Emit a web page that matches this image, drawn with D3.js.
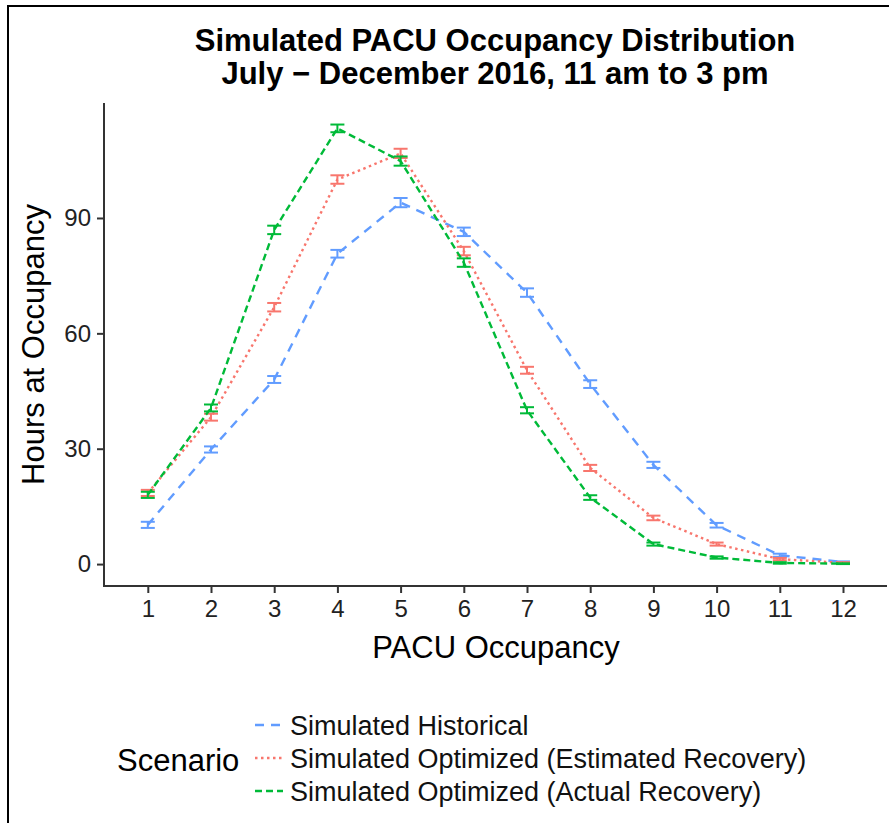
<!DOCTYPE html>
<html>
<head>
<meta charset="utf-8">
<script src="https://cdn.jsdelivr.net/npm/d3@7"></script>
<style>
  body { margin: 0; background: #fff; }
  svg { display: block; font-family: "Liberation Sans", Arial, sans-serif; }
</style>
</head>
<body>
<div id="chart"></div>
<script>
const occupancy = [1, 2, 3, 4, 5, 6, 7, 8, 9, 10, 11, 12];
const scenarios = [
  "Simulated Historical",
  "Simulated Optimized (Estimated Recovery)",
  "Simulated Optimized (Actual Recovery)"
];
const historical = [10.2, 29.8, 48.0, 80.7, 94.0, 86.4, 70.6, 46.8, 25.8, 10.1, 2.3, 0.5];
const estimated = [18.5, 38.2, 66.8, 100.0, 106.8, 81.4, 50.4, 25.0, 12.0, 5.2, 1.3, 0.3];
const actual = [18.0, 40.6, 86.9, 113.3, 104.8, 78.4, 40.0, 17.3, 5.2, 1.7, 0.3, 0.1];
const errHistorical = [0.8, 0.8, 0.9, 1.0, 1.2, 1.1, 1.1, 1.0, 0.8, 0.6, 0.4, 0.2];
const errEstimated = [0.8, 0.9, 1.1, 1.1, 1.2, 1.1, 0.9, 0.8, 0.6, 0.4, 0.3, 0.2];
const errActual = [0.8, 0.9, 1.1, 1.0, 1.2, 1.1, 0.8, 0.6, 0.4, 0.3, 0.2, 0.1];
const yTicks = [0, 30, 60, 90];

const colors = ["#619CFF", "#F8766D", "#00BA38"];
const dashes = ["9,7", "2.5,3.5", "7,4"];

const series = [
  { name: scenarios[0], values: historical, err: errHistorical },
  { name: scenarios[1], values: estimated, err: errEstimated },
  { name: scenarios[2], values: actual, err: errActual }
].map((s, i) => ({
  ...s,
  color: colors[i],
  dash: dashes[i],
  points: occupancy.map((o, j) => ({ x: o, y: s.values[j], e: s.err[j] }))
}));

const width = 889;
const height = 823;

const svg = d3
  .select("#chart")
  .append("svg")
  .attr("width", width)
  .attr("height", height);

// frame (only top and left edges are visible)
svg.append("path")
  .attr("d", `M8,${height} V6 H${width}`)
  .attr("fill", "none")
  .attr("stroke", "#000")
  .attr("stroke-width", 2);

const plot = { left: 104, right: 887, top: 103, bottom: 586 };

const x = d3.scaleLinear().domain([1, 12]).range([147.8, 843]);
const y = d3.scaleLinear().domain([-5.7, 119.9]).range([plot.bottom, plot.top]);

// title
const title = svg.append("text")
  .attr("text-anchor", "middle")
  .attr("font-weight", "bold")
  .attr("font-size", 31)
  .attr("fill", "#000");
title.append("tspan").attr("x", 495).attr("y", 51).text("Simulated PACU Occupancy Distribution");
title.append("tspan").attr("x", 495).attr("y", 84).text("July \u2212 December 2016, 11 am to 3 pm");

// axes
const xAxis = svg.append("g")
  .attr("transform", `translate(0,${plot.bottom})`)
  .call(d3.axisBottom(x).tickValues(occupancy).tickSize(7).tickPadding(7));
const yAxis = svg.append("g")
  .attr("transform", `translate(${plot.left},0)`)
  .call(d3.axisLeft(y).tickValues(yTicks).tickSize(7).tickPadding(6));

[xAxis, yAxis].forEach((g) => {
  g.select(".domain").remove();
  g.selectAll(".tick line").attr("stroke", "#333").attr("stroke-width", 2);
  g.selectAll(".tick text").attr("fill", "#222").attr("font-size", 24)
    .attr("font-family", "Liberation Sans, Arial, sans-serif");
});

svg.append("line")
  .attr("x1", plot.left).attr("x2", plot.right)
  .attr("y1", plot.bottom).attr("y2", plot.bottom)
  .attr("stroke", "#333").attr("stroke-width", 2);
svg.append("line")
  .attr("x1", plot.left).attr("x2", plot.left)
  .attr("y1", plot.top).attr("y2", plot.bottom + 1)
  .attr("stroke", "#333").attr("stroke-width", 2);

// axis titles
svg.append("text")
  .attr("x", 496).attr("y", 658)
  .attr("text-anchor", "middle")
  .attr("font-size", 31)
  .text("PACU Occupancy");
svg.append("text")
  .attr("transform", `translate(44,${(plot.top + plot.bottom) / 2}) rotate(-90)`)
  .attr("text-anchor", "middle")
  .attr("font-size", 31)
  .text("Hours at Occupancy");

// lines
const line = d3.line().x((d) => x(d.x)).y((d) => y(d.y));

const groups = svg.append("g")
  .selectAll("g")
  .data(series)
  .join("g");

groups.append("path")
  .attr("d", (d) => line(d.points))
  .attr("fill", "none")
  .attr("stroke", (d) => d.color)
  .attr("stroke-width", 2.4)
  .attr("stroke-dasharray", (d) => d.dash);

// error bars
groups.each(function (s) {
  const g = d3.select(this);
  const bars = g.selectAll(".err").data(s.points).join("g").attr("class", "err")
    .attr("stroke", s.color).attr("stroke-width", 2);
  bars.append("line")
    .attr("x1", (d) => x(d.x)).attr("x2", (d) => x(d.x))
    .attr("y1", (d) => y(d.y - d.e)).attr("y2", (d) => y(d.y + d.e));
  bars.append("line")
    .attr("x1", (d) => x(d.x) - 7).attr("x2", (d) => x(d.x) + 7)
    .attr("y1", (d) => y(d.y - d.e)).attr("y2", (d) => y(d.y - d.e));
  bars.append("line")
    .attr("x1", (d) => x(d.x) - 7).attr("x2", (d) => x(d.x) + 7)
    .attr("y1", (d) => y(d.y + d.e)).attr("y2", (d) => y(d.y + d.e));
});

// legend
const legend = svg.append("g");
legend.append("text")
  .attr("x", 117).attr("y", 771)
  .attr("font-size", 31)
  .text("Scenario");

const items = legend.selectAll(".item")
  .data(series)
  .join("g")
  .attr("class", "item")
  .attr("transform", (d, i) => `translate(0,${725 + i * 33})`);

items.append("line")
  .attr("x1", 255).attr("x2", 283)
  .attr("y1", 0).attr("y2", 0)
  .attr("stroke", (d) => d.color)
  .attr("stroke-width", 2.4)
  .attr("stroke-dasharray", (d) => d.dash);

items.append("text")
  .attr("x", 290).attr("y", 10)
  .attr("font-size", 27)
  .attr("fill", "#111")
  .text((d) => d.name);
</script>
</body>
</html>
